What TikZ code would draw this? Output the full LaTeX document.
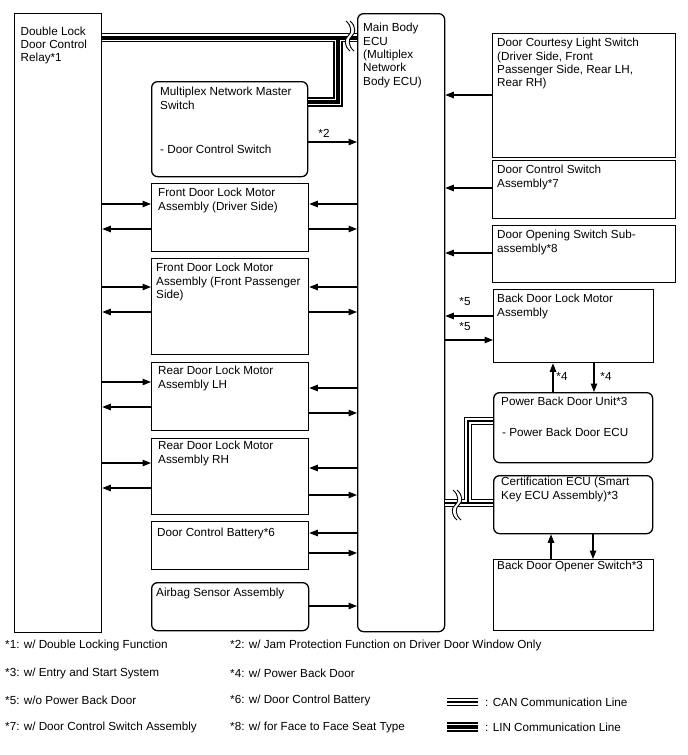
\documentclass[tikz,border=0pt]{standalone}
\usepackage{fontspec}
\setmainfont{Liberation Sans}
\usetikzlibrary{arrows.meta}
% cut mark across a bus line
\newcommand\buscut[2]{%
  \fill[white] (#1-2,#2-15) .. controls (#1+4,#2-10) and (#1+4,#2-3) .. (#1,#2) .. controls (#1-4,#2+3) and (#1-4,#2+10) .. (#1+2,#2+15)
    -- (#1+6,#2+15) .. controls (#1,#2+10) and (#1,#2+3) .. (#1+4,#2) .. controls (#1+8,#2-3) and (#1+8,#2-10) .. (#1+2,#2-15) -- cycle;
  \draw[line width=0.9] (#1-2,#2-15) .. controls (#1+4,#2-10) and (#1+4,#2-3) .. (#1,#2) .. controls (#1-4,#2+3) and (#1-4,#2+10) .. (#1+2,#2+15);
  \draw[line width=0.9] (#1+2,#2-15) .. controls (#1+8,#2-10) and (#1+8,#2-3) .. (#1+4,#2) .. controls (#1,#2+3) and (#1,#2+10) .. (#1+6,#2+15);
}
\begin{document}
\begin{tikzpicture}[x=1pt,y=-1pt,
  box/.style={draw, line width=1.3, anchor=north west, inner sep=0},
  rbox/.style={box, rounded corners=6},
  txt/.style={anchor=north west, inner sep=0, align=left, font=\fontsize{11.7}{13.4}\selectfont},
  lbl/.style={inner sep=0, font=\fontsize{11.7}{13.4}\selectfont},
  arr/.style={line width=1.1, -{Triangle[length=8.5,width=6.5]}},
  lin outer/.style={line width=9.6, line join=miter},
  lin gap/.style={line width=6.8, white, line join=miter},
  lin core/.style={line width=4, line join=miter},
  can outer/.style={line width=8, line join=miter},
  can gap/.style={line width=5.4, white, line join=miter},
  can core/.style={line width=1.3, line join=miter}]
\useasboundingbox (0,0) rectangle (688,755);

% left column
\node[box, minimum width=87, minimum height=619] (relay) at (14,13) {};
\node[txt] (t-relay) at (20.5,26.5) {Double Lock\\Door Control\\Relay*1};
\node[rbox, minimum width=87, minimum height=618] (ecu) at (357,13) {};
\node[txt] (t-ecu) at (363,23) {Main Body\\ECU\\(Multiplex\\Network\\Body ECU)};

% middle column
\node[rbox, minimum width=156, minimum height=95] (mux) at (151,81) {};
\node[txt] (t-mux) at (160,87) {Multiplex Network Master\\Switch};
\node[txt] (t-mux2) at (160,145) {- Door Control Switch};
\node[box, minimum width=157, minimum height=68] (fdd) at (151,183) {};
\node[txt] (t-fdd) at (158,188) {Front Door Lock Motor\\Assembly (Driver Side)};
\node[box, minimum width=157, minimum height=96] (fdp) at (151,258) {};
\node[txt] (t-fdp) at (156,263) {Front Door Lock Motor\\Assembly (Front Passenger\\Side)};
\node[box, minimum width=157, minimum height=68] (rlh) at (151,362) {};
\node[txt] (t-rlh) at (158,366) {Rear Door Lock Motor\\Assembly LH};
\node[box, minimum width=157, minimum height=76] (rrh) at (151,438) {};
\node[txt] (t-rrh) at (158,441) {Rear Door Lock Motor\\Assembly RH};
\node[box, minimum width=157, minimum height=48] (bat) at (151,521) {};
\node[txt] (t-bat) at (157,528) {Door Control Battery*6};
\node[rbox, minimum width=157, minimum height=48] (air) at (151,582) {};
\node[txt] (t-air) at (156,588) {Airbag Sensor Assembly};

% right column
\node[box, minimum width=183, minimum height=124] (court) at (492,33) {};
\node[txt] (t-court) at (497,38) {Door Courtesy Light Switch\\(Driver Side, Front\\Passenger Side, Rear LH,\\Rear RH)};
\node[box, minimum width=183, minimum height=58] (dcs) at (492,160) {};
\node[txt] (t-dcs) at (497,165) {Door Control Switch\\Assembly*7};
\node[box, minimum width=183, minimum height=57] (dos) at (492,225) {};
\node[txt] (t-dos) at (497,230) {Door Opening Switch Sub-\\assembly*8};
\node[box, minimum width=160, minimum height=73] (bdl) at (493,289) {};
\node[txt] (t-bdl) at (497,294) {Back Door Lock Motor\\Assembly};
\node[rbox, minimum width=159, minimum height=70] (pbd) at (493,392) {};
\node[txt] (t-pbd) at (501,397) {Power Back Door Unit*3};
\node[txt] (t-pbd2) at (502,428) {- Power Back Door ECU};
\node[rbox, minimum width=159, minimum height=58] (cert) at (493,475) {};
\node[txt] (t-cert) at (501,477) {Certification ECU (Smart\\Key ECU Assembly)*3};
\node[box, minimum width=160, minimum height=71] (opn) at (493,559) {};
\node[txt] (t-opn) at (497,561) {Back Door Opener Switch*3};

% relay <-> door lock motors
\foreach \n/\a/\b in {fdd/204/229, fdp/287/312, rlh/382/407, rrh/463/488}{
  \draw[arr] (relay.east |- 0,\a) -- (\n.west |- 0,\a);
  \draw[arr] (\n.west |- 0,\b) -- (relay.east |- 0,\b);
}
% ECU <-> middle column
\foreach \n/\a/\b in {fdd/204/229, fdp/287/312, rlh/388/413, rrh/468/495, bat/533/553}{
  \draw[arr] (ecu.west |- 0,\a) -- (\n.east |- 0,\a);
  \draw[arr] (\n.east |- 0,\b) -- (ecu.west |- 0,\b);
}
\draw[arr] (mux.east |- 0,142) -- (ecu.west |- 0,142);
\node[lbl] (n2) at (324,133) {*2};
\draw[arr] (air.east |- 0,606) -- (ecu.west |- 0,606);

% right column -> ECU
\foreach \n/\a in {court/95, dcs/188, dos/253}
  \draw[arr] (\n.west |- 0,\a) -- (ecu.east |- 0,\a);
\draw[arr] (bdl.west |- 0,316) -- (ecu.east |- 0,316);
\draw[arr] (ecu.east |- 0,340) -- (bdl.west |- 0,340);
\node[lbl] (n5a) at (465,302) {*5};
\node[lbl] (n5b) at (465,327) {*5};
\draw[arr] (pbd.north -| 553,0) -- (bdl.south -| 553,0);
\draw[arr] (bdl.south -| 594,0) -- (pbd.north -| 594,0);
\node[lbl] (n4a) at (562,376) {*4};
\node[lbl] (n4b) at (606,376) {*4};
\draw[arr] (opn.north -| 551,0) -- (cert.south -| 551,0);
\draw[arr] (cert.south -| 593,0) -- (opn.north -| 593,0);

% LIN bus (relay, master switch, ECU)
\coordinate (lj) at (338,37.5);
\foreach \s in {lin outer, lin gap, lin core}
  \draw[\s] (relay.east |- 0,37.5) -- (ecu.west |- 0,37.5) (mux.east |- 0,102) -| (lj);
\buscut{348}{36}

% CAN bus (ECU, certification ECU, power back door)
\coordinate (cj) at (468,503);
\foreach \s in {can outer, can gap, can core}
  \draw[\s] (ecu.east |- 0,503) -- (cert.west |- 0,503) (cj) |- (pbd.west |- 0,421);
\buscut{455}{505}

% notes
\node[lbl, anchor=west] (f1) at (5,645) {*1: w/ Double Locking Function};
\node[lbl, anchor=west] (f2) at (230,645) {*2: w/ Jam Protection Function on Driver Door Window Only};
\node[lbl, anchor=west] (f3) at (5,673) {*3: w/ Entry and Start System};
\node[lbl, anchor=west] (f4) at (230,673) {*4: w/ Power Back Door};
\node[lbl, anchor=west] (f5) at (5,700) {*5: w/o Power Back Door};
\node[lbl, anchor=west] (f6) at (230,700) {*6: w/ Door Control Battery};
\node[lbl, anchor=west] (f7) at (5,727) {*7: w/ Door Control Switch Assembly};
\node[lbl, anchor=west] (f8) at (230,727) {*8: w/ for Face to Face Seat Type};

% legend
\coordinate (canA) at (447,702);
\coordinate (canB) at (478,702);
\coordinate (linA) at (447,727);
\coordinate (linB) at (478,727);
\foreach \s in {can outer, can gap, can core}
  \draw[\s] (canA) -- (canB);
\foreach \s in {lin outer, lin gap, lin core}
  \draw[\s] (linA) -- (linB);
\node[lbl, anchor=west] (l-can) at (485,702) {: CAN Communication Line};
\node[lbl, anchor=west] (l-lin) at (485,727) {: LIN Communication Line};
\end{tikzpicture}
\end{document}
